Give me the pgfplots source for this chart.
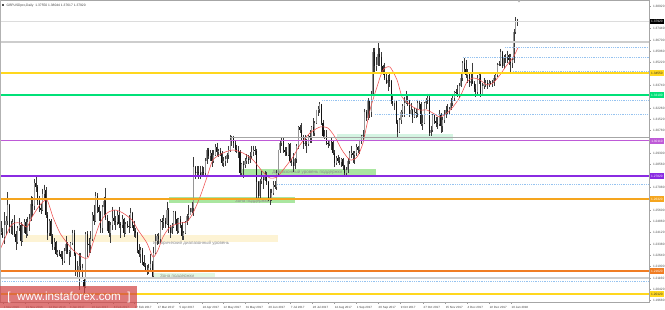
\documentclass[border=0pt]{standalone}
\usepackage{fontspec}
\setmainfont{Liberation Sans}
\usepackage{pgfplots}
\usepackage{pgfplotstable}
\pgfplotsset{compat=1.18}
\definecolor{wick}{RGB}{60,60,60}
\definecolor{bull}{RGB}{150,150,150}
\definecolor{bear}{RGB}{20,20,20}
\definecolor{lgray}{RGB}{205,205,205}
\definecolor{gold}{RGB}{255,215,30}
\definecolor{sgreen}{RGB}{0,225,120}
\definecolor{orchid}{RGB}{190,90,215}
\definecolor{bviolet}{RGB}{138,43,226}
\definecolor{orange1}{RGB}{245,165,30}
\definecolor{orange2}{RGB}{240,125,35}
\definecolor{dotcol}{RGB}{150,195,240}
\definecolor{macol}{RGB}{240,80,80}
\definecolor{zgreen}{RGB}{170,230,160}
\definecolor{zmint}{RGB}{212,244,226}
\definecolor{zyellow}{RGB}{253,243,212}
\definecolor{zpale}{RGB}{226,247,226}
\definecolor{wm}{RGB}{210,70,70}
\pgfplotstableread{
i o h l c
-1 1.2410 1.2485 1.2395 1.2415
0 1.2415 1.2440 1.2375 1.2385
1 1.2385 1.2545 1.2335 1.2460
2 1.2460 1.2520 1.2395 1.2485
3 1.2485 1.2675 1.2465 1.2595
4 1.2595 1.2600 1.2410 1.2450
5 1.2450 1.2490 1.2400 1.2455
6 1.2455 1.2500 1.2395 1.2480
7 1.2480 1.2525 1.2385 1.2405
8 1.2405 1.2425 1.2300 1.2350
9 1.2350 1.2455 1.2335 1.2440
10 1.2440 1.2505 1.2420 1.2460
11 1.2460 1.2480 1.2325 1.2360
12 1.2360 1.2470 1.2350 1.2455
13 1.2455 1.2500 1.2410 1.2480
14 1.2480 1.2500 1.2380 1.2405
15 1.2405 1.2515 1.2390 1.2480
16 1.2480 1.2535 1.2420 1.2500
17 1.2500 1.2650 1.2490 1.2600
18 1.2600 1.2645 1.2520 1.2585
19 1.2585 1.2760 1.2560 1.2735
20 1.2735 1.2775 1.2680 1.2710
21 1.2710 1.2720 1.2595 1.2620
22 1.2620 1.2650 1.2550 1.2575
23 1.2575 1.2600 1.2535 1.2560
24 1.2560 1.2700 1.2555 1.2665
25 1.2665 1.2725 1.2630 1.2690
26 1.2690 1.2710 1.2510 1.2525
27 1.2525 1.2545 1.2365 1.2410
28 1.2410 1.2500 1.2390 1.2490
29 1.2490 1.2500 1.2335 1.2390
30 1.2390 1.2400 1.2300 1.2320
31 1.2320 1.2375 1.2300 1.2350
32 1.2350 1.2360 1.2265 1.2275
33 1.2275 1.2300 1.2250 1.2285
34 1.2285 1.2300 1.2260 1.2270
35 1.2270 1.2290 1.2240 1.2255
36 1.2255 1.2290 1.2200 1.2225
37 1.2225 1.2310 1.2215 1.2290
38 1.2290 1.2390 1.2270 1.2340
39 1.2340 1.2350 1.2270 1.2285
40 1.2285 1.2300 1.2200 1.2290
41 1.2290 1.2350 1.2255 1.2345
42 1.2345 1.2430 1.2330 1.2410
43 1.2410 1.2430 1.2260 1.2275
44 1.2275 1.2280 1.2130 1.2170
45 1.2170 1.2230 1.2110 1.2170
46 1.2170 1.2280 1.2035 1.2195
47 1.2195 1.2280 1.2155 1.2165
48 1.2165 1.2210 1.2120 1.2180
49 1.2100 1.2115 1.1986 1.2060
50 1.2060 1.2415 1.2050 1.2405
51 1.2405 1.2420 1.2255 1.2340
52 1.2340 1.2375 1.2280 1.2330
53 1.2330 1.2420 1.2280 1.2370
54 1.2370 1.2545 1.2360 1.2530
55 1.2530 1.2590 1.2460 1.2485
56 1.2485 1.2675 1.2480 1.2650
57 1.2650 1.2670 1.2540 1.2580
58 1.2580 1.2595 1.2490 1.2545
59 1.2545 1.2555 1.2410 1.2440
60 1.2440 1.2590 1.2410 1.2580
61 1.2580 1.2645 1.2530 1.2620
62 1.2620 1.2705 1.2495 1.2510
63 1.2510 1.2530 1.2420 1.2485
64 1.2485 1.2490 1.2385 1.2410
65 1.2410 1.2480 1.2345 1.2460
66 1.2460 1.2580 1.2430 1.2510
67 1.2510 1.2560 1.2460 1.2485
68 1.2485 1.2520 1.2430 1.2480
69 1.2480 1.2555 1.2460 1.2530
70 1.2530 1.2580 1.2440 1.2470
71 1.2470 1.2480 1.2375 1.2460
72 1.2460 1.2525 1.2440 1.2500
73 1.2500 1.2510 1.2385 1.2410
74 1.2410 1.2480 1.2400 1.2470
75 1.2470 1.2485 1.2440 1.2455
76 1.2455 1.2530 1.2410 1.2450
77 1.2450 1.2570 1.2440 1.2540
78 1.2540 1.2550 1.2445 1.2460
79 1.2460 1.2490 1.2385 1.2420
80 1.2420 1.2440 1.2380 1.2410
81 1.2410 1.2415 1.2280 1.2300
82 1.2300 1.2335 1.2250 1.2275
83 1.2275 1.2320 1.2215 1.2300
84 1.2300 1.2310 1.2200 1.2220
85 1.2220 1.2265 1.2190 1.2195
86 1.2195 1.2215 1.2160 1.2170
87 1.2170 1.2200 1.2135 1.2160
88 1.2160 1.2210 1.2140 1.2180
89 1.2180 1.2275 1.2170 1.2210
90 1.2210 1.2230 1.2110 1.2130
91 1.2130 1.2320 1.2125 1.2280
92 1.2280 1.2400 1.2270 1.2360
93 1.2360 1.2405 1.2330 1.2390
94 1.2390 1.2410 1.2335 1.2370
95 1.2370 1.2500 1.2345 1.2490
96 1.2490 1.2505 1.2430 1.2480
97 1.2480 1.2525 1.2445 1.2490
98 1.2490 1.2510 1.2440 1.2470
99 1.2470 1.2615 1.2465 1.2560
100 1.2560 1.2570 1.2410 1.2440
101 1.2440 1.2465 1.2380 1.2410
102 1.2410 1.2475 1.2400 1.2450
103 1.2450 1.2555 1.2445 1.2550
104 1.2550 1.2555 1.2470 1.2500
105 1.2500 1.2505 1.2400 1.2420
106 1.2420 1.2510 1.2410 1.2500
107 1.2500 1.2520 1.2440 1.2460
108 1.2460 1.2480 1.2365 1.2390
109 1.2390 1.2420 1.2365 1.2410
110 1.2410 1.2485 1.2400 1.2480
111 1.2480 1.2535 1.2460 1.2520
112 1.2520 1.2590 1.2490 1.2530
113 1.2530 1.2575 1.2525 1.2550
114 1.2550 1.2615 1.2540 1.2570
115 1.2570 1.2905 1.2520 1.2840
116 1.2840 1.2845 1.2765 1.2800
117 1.2800 1.2845 1.2780 1.2810
118 1.2810 1.2845 1.2760 1.2800
119 1.2800 1.2850 1.2760 1.2790
120 1.2790 1.2850 1.2775 1.2810
121 1.2810 1.2840 1.2775 1.2800
122 1.2800 1.2900 1.2790 1.2880
123 1.2880 1.2965 1.2860 1.2950
124 1.2950 1.2965 1.2890 1.2910
125 1.2910 1.2950 1.2880 1.2930
126 1.2930 1.2950 1.2840 1.2880
127 1.2880 1.2950 1.2870 1.2920
128 1.2920 1.2990 1.2910 1.2970
129 1.2970 1.3000 1.2910 1.2940
130 1.2940 1.2960 1.2905 1.2945
131 1.2945 1.2965 1.2915 1.2930
132 1.2930 1.2945 1.2845 1.2870
133 1.2870 1.2905 1.2840 1.2880
134 1.2880 1.2910 1.2850 1.2890
135 1.2890 1.2935 1.2870 1.2920
136 1.2920 1.2975 1.2890 1.2950
137 1.2950 1.3048 1.2940 1.3020
138 1.3020 1.3045 1.2980 1.3030
139 1.3030 1.3045 1.2965 1.3000
140 1.3000 1.3010 1.2940 1.2960
141 1.2960 1.2985 1.2935 1.2950
142 1.2950 1.2975 1.2900 1.2940
143 1.2940 1.2950 1.2775 1.2800
144 1.2800 1.2870 1.2790 1.2860
145 1.2860 1.2880 1.2770 1.2855
146 1.2855 1.2900 1.2835 1.2880
147 1.2880 1.2925 1.2860 1.2890
148 1.2890 1.2920 1.2860 1.2885
149 1.2885 1.2940 1.2870 1.2910
150 1.2910 1.2975 1.2890 1.2940
151 1.2940 1.2980 1.2910 1.2950
152 1.2950 1.2975 1.2920 1.2945
153 1.2945 1.2960 1.2635 1.2740
154 1.2740 1.2750 1.2630 1.2650
155 1.2650 1.2765 1.2640 1.2750
156 1.2750 1.2815 1.2730 1.2760
157 1.2760 1.2790 1.2700 1.2755
158 1.2755 1.2815 1.2750 1.2780
159 1.2780 1.2810 1.2720 1.2740
160 1.2740 1.2750 1.2620 1.2640
161 1.2640 1.2700 1.2590 1.2630
162 1.2630 1.2700 1.2620 1.2670
163 1.2670 1.2750 1.2660 1.2720
164 1.2720 1.2750 1.2700 1.2710
165 1.2710 1.2820 1.2690 1.2800
166 1.2800 1.2955 1.2790 1.2950
167 1.2950 1.3010 1.2930 1.3000
168 1.3000 1.3030 1.2975 1.3020
169 1.3020 1.3030 1.2935 1.2950
170 1.2950 1.2970 1.2915 1.2940
171 1.2940 1.2970 1.2910 1.2920
172 1.2920 1.2995 1.2915 1.2990
173 1.2990 1.2995 1.2870 1.2880
174 1.2880 1.2895 1.2850 1.2875
175 1.2875 1.2930 1.2810 1.2850
176 1.2850 1.2900 1.2830 1.2890
177 1.2890 1.2990 1.2870 1.2980
178 1.2980 1.3110 1.2960 1.3100
179 1.3100 1.3115 1.3060 1.3080
180 1.3080 1.3125 1.3015 1.3030
181 1.3030 1.3050 1.2960 1.2990
182 1.2990 1.3050 1.2980 1.3000
183 1.3000 1.3025 1.2930 1.2990
184 1.2990 1.3050 1.2980 1.3040
185 1.3040 1.3080 1.3000 1.3030
186 1.3030 1.3110 1.3000 1.3100
187 1.3100 1.3160 1.3040 1.3060
188 1.3060 1.3140 1.3045 1.3130
189 1.3130 1.3215 1.3120 1.3210
190 1.3210 1.3240 1.3175 1.3220
191 1.3220 1.3265 1.3195 1.3250
192 1.3250 1.3255 1.3115 1.3130
193 1.3130 1.3145 1.3030 1.3040
194 1.3040 1.3080 1.3025 1.3045
195 1.3045 1.3080 1.2985 1.3000
196 1.3000 1.3020 1.2965 1.2990
197 1.2990 1.3020 1.2980 1.3010
198 1.3010 1.3030 1.2955 1.3005
199 1.3005 1.3015 1.2920 1.2930
200 1.2930 1.2950 1.2840 1.2870
201 1.2870 1.2910 1.2855 1.2900
202 1.2900 1.2920 1.2870 1.2880
203 1.2880 1.2905 1.2855 1.2875
204 1.2875 1.2900 1.2840 1.2890
205 1.2890 1.2900 1.2820 1.2850
206 1.2850 1.2855 1.2775 1.2800
207 1.2800 1.2840 1.2775 1.2820
208 1.2820 1.2900 1.2800 1.2880
209 1.2880 1.2945 1.2860 1.2930
210 1.2930 1.2980 1.2900 1.2935
211 1.2935 1.2945 1.2870 1.2920
212 1.2920 1.2945 1.2860 1.2930
213 1.2930 1.2990 1.2910 1.2970
214 1.2970 1.2975 1.2930 1.2950
215 1.2950 1.3020 1.2925 1.3010
216 1.3010 1.3050 1.2990 1.3040
217 1.3040 1.3080 1.3010 1.3050
218 1.3050 1.3220 1.3040 1.3200
219 1.3200 1.3210 1.3140 1.3160
220 1.3160 1.3290 1.3150 1.3270
221 1.3270 1.3280 1.3160 1.3200
222 1.3200 1.3340 1.3170 1.3320
223 1.3320 1.3615 1.3310 1.3590
224 1.3590 1.3620 1.3460 1.3500
225 1.3500 1.3560 1.3470 1.3510
226 1.3510 1.3657 1.3500 1.3580
227 1.3580 1.3615 1.3500 1.3560
228 1.3560 1.3590 1.3450 1.3500
229 1.3500 1.3510 1.3440 1.3450
230 1.3450 1.3520 1.3410 1.3420
231 1.3420 1.3450 1.3380 1.3390
232 1.3390 1.3440 1.3340 1.3410
233 1.3410 1.3450 1.3360 1.3400
234 1.3400 1.3410 1.3255 1.3270
235 1.3270 1.3320 1.3240 1.3260
236 1.3260 1.3280 1.3210 1.3270
237 1.3270 1.3275 1.3120 1.3130
238 1.3130 1.3150 1.3030 1.3070
239 1.3070 1.3160 1.3060 1.3150
240 1.3150 1.3210 1.3120 1.3200
241 1.3200 1.3250 1.3170 1.3240
242 1.3240 1.3300 1.3170 1.3260
243 1.3260 1.3340 1.3250 1.3280
244 1.3280 1.3310 1.3240 1.3270
245 1.3270 1.3280 1.3170 1.3190
246 1.3190 1.3260 1.3180 1.3210
247 1.3210 1.3220 1.3125 1.3170
248 1.3170 1.3225 1.3160 1.3200
249 1.3200 1.3220 1.3160 1.3195
250 1.3195 1.3280 1.3170 1.3260
251 1.3260 1.3275 1.3220 1.3255
252 1.3255 1.3265 1.3110 1.3120
253 1.3120 1.3180 1.3080 1.3130
254 1.3130 1.3265 1.3120 1.3260
255 1.3260 1.3290 1.3220 1.3280
256 1.3280 1.3320 1.3250 1.3290
257 1.3290 1.3320 1.3040 1.3060
258 1.3060 1.3110 1.3040 1.3080
259 1.3080 1.3190 1.3070 1.3180
260 1.3180 1.3190 1.3120 1.3140
261 1.3140 1.3170 1.3100 1.3130
262 1.3130 1.3170 1.3090 1.3120
263 1.3120 1.3210 1.3110 1.3190
264 1.3190 1.3195 1.3060 1.3110
265 1.3110 1.3170 1.3070 1.3150
266 1.3150 1.3210 1.3130 1.3180
267 1.3180 1.3240 1.3160 1.3210
268 1.3210 1.3250 1.3190 1.3205
269 1.3205 1.3230 1.3180 1.3220
270 1.3220 1.3290 1.3210 1.3260
271 1.3260 1.3320 1.3240 1.3290
272 1.3290 1.3340 1.3270 1.3330
273 1.3330 1.3350 1.3310 1.3325
274 1.3325 1.3375 1.3300 1.3320
275 1.3320 1.3390 1.3290 1.3370
276 1.3370 1.3450 1.3360 1.3420
277 1.3420 1.3530 1.3400 1.3520
278 1.3520 1.3550 1.3460 1.3480
279 1.3480 1.3540 1.3420 1.3440
280 1.3440 1.3480 1.3390 1.3445
281 1.3445 1.3450 1.3360 1.3390
282 1.3390 1.3460 1.3370 1.3400
283 1.3400 1.3520 1.3380 1.3390
284 1.3390 1.3400 1.3330 1.3350
285 1.3350 1.3380 1.3300 1.3330
286 1.3330 1.3440 1.3320 1.3420
287 1.3420 1.3460 1.3380 1.3440
288 1.3440 1.3450 1.3300 1.3320
289 1.3320 1.3390 1.3310 1.3370
290 1.3370 1.3420 1.3350 1.3380
291 1.3380 1.3410 1.3360 1.3390
292 1.3390 1.3410 1.3350 1.3380
293 1.3380 1.3410 1.3360 1.3390
294 1.3390 1.3400 1.3380 1.3385
295 1.3385 1.3410 1.3360 1.3390
296 1.3390 1.3440 1.3370 1.3420
297 1.3420 1.3460 1.3400 1.3440
298 1.3440 1.3520 1.3430 1.3510
299 1.3510 1.3530 1.3500 1.3515
300 1.3515 1.3612 1.3500 1.3590
301 1.3590 1.3600 1.3490 1.3500
302 1.3500 1.3570 1.3480 1.3550
303 1.3550 1.3580 1.3520 1.3560
304 1.3560 1.3600 1.3520 1.3570
305 1.3570 1.3580 1.3510 1.3540
306 1.3540 1.3580 1.3460 1.3520
307 1.3520 1.3560 1.3490 1.3540
308 1.3540 1.3740 1.3520 1.3720
309 1.3720 1.3820 1.3710 1.3790
310 1.3785 1.3810 1.3760 1.3792
}\ohlc
\begin{document}
\begin{tikzpicture}
\useasboundingbox (0bp,0bp) rectangle (665bp,310bp);
\fill[white] (0bp,0bp) rectangle (665bp,310bp);
\begin{axis}[
  at={(0bp,8bp)}, anchor=south west,
  scale only axis, width=649bp, height=302bp,
  xmin=-1.6, xmax=389.4, ymin=1.19592, ymax=1.39313,
  clip mode=individual,
  axis line style={draw=gray!70, line width=0.6bp},
  xtick pos=bottom, ytick pos=right, yticklabel pos=right,
  tick align=outside, major tick length=1.6bp,
  tick style={draw=gray!80, line width=0.4bp},
  scaled y ticks=false,
  /pgf/number format/assume math mode=true,
  xtick={0.2,13.5,27.3,40.0,53.2,66.5,79.1,93.0,106.2,120.1,132.7,146.0,159.8,173.1,186.4,199.6,212.9,226.1,239.4,253.2,266.5,279.7,293.0,306.2},
  xticklabels={1 Nov 2016,21 Nov 2016,14 Dec 2016,3 Jan 2017,23 Jan 2017,8 Feb 2017,27 Feb 2017,17 Mar 2017,5 Apr 2017,24 Apr 2017,12 May 2017,31 May 2017,20 Jun 2017,7 Jul 2017,26 Jul 2017,14 Aug 2017,1 Sep 2017,20 Sep 2017,9 Oct 2017,27 Oct 2017,15 Nov 2017,4 Dec 2017,22 Dec 2017,10 Jan 2018},
  xticklabel style={font=\fontsize{3}{3.5}\selectfont, text=black!75, anchor=north west, inner sep=0pt, xshift=0.6bp, yshift=-2.6bp},
  ytick={1.3892,1.3744,1.3670,1.3596,1.3522,1.3374,1.3226,1.3152,1.3078,1.2930,1.2856,1.2708,1.2560,1.2486,1.2412,1.2338,1.2264,1.2190,1.2116,1.2042,1.1968},
  yticklabel style={font=\fontsize{3.2}{3.6}\selectfont, text=black!70, anchor=west, inner sep=0pt, xshift=2.2bp,
    /pgf/number format/fixed, /pgf/number format/fixed zerofill, /pgf/number format/precision=5},
]
% zones
\addplot[draw=none, fill=zyellow, forget plot] coordinates {(10.5,1.23968) (165.9,1.23968) (165.9,1.23511) (10.5,1.23511)} -- cycle;
\addplot[draw=none, fill=zgreen, forget plot] coordinates {(100.2,1.26449) (176.1,1.26449) (176.1,1.26057) (100.2,1.26057)} -- cycle;
\addplot[draw=none, fill=zgreen, forget plot] coordinates {(143.0,1.28277) (224.9,1.28277) (224.9,1.27820) (143.0,1.27820)} -- cycle;
\addplot[draw=none, fill=zmint, forget plot] coordinates {(201.4,1.30563) (271.3,1.30563) (271.3,1.30171) (201.4,1.30171)} -- cycle;
\addplot[draw=none, fill=zpale, forget plot] coordinates {(90.0,1.21486) (127.9,1.21486) (127.9,1.21160) (90.0,1.21160)} -- cycle;
% zone texts
\node[anchor=west, inner sep=0pt, font=\fontsize{4.5}{5}\selectfont, text=black!45] at (axis cs:90.6,1.23445) {Исторический диапазонный уровень};
\node[anchor=west, inner sep=0pt, font=\fontsize{4.5}{5}\selectfont, text=black!45] at (axis cs:162.3,1.28049) {Диапазонный уровень поддержки};
\node[anchor=west, inner sep=0pt, font=\fontsize{4.5}{5}\selectfont, text=black!45] at (axis cs:140.0,1.26188) {Зона поддержки};
\node[anchor=west, inner sep=0pt, font=\fontsize{4.5}{5}\selectfont, text=black!45] at (axis cs:94.8,1.21290) {Зона поддержки};
% wicks
\addplot[draw=none, mark=none, forget plot, error bars/.cd, y dir=minus, y explicit, error mark=none,
  error bar style={line width=0.45bp, color=wick}]
  table[x=i, y=h, y error minus expr=\thisrow{h}-\thisrow{l}] {\ohlc};
% bull bodies
\addplot[draw=none, mark=none, forget plot, restrict expr to domain={\thisrow{c}-\thisrow{o}}{0:1},
  error bars/.cd, y dir=minus, y explicit, error mark=none,
  error bar style={line width=1.05bp, color=bull}]
  table[x=i, y=c, y error minus expr=\thisrow{c}-\thisrow{o}] {\ohlc};
% bear bodies
\addplot[draw=none, mark=none, forget plot, restrict expr to domain={\thisrow{o}-\thisrow{c}}{0.00001:1},
  error bars/.cd, y dir=minus, y explicit, error mark=none,
  error bar style={line width=1.05bp, color=bear}]
  table[x=i, y=o, y error minus expr=\thisrow{o}-\thisrow{c}] {\ohlc};
% moving average
\addplot[macol, line width=0.55bp, smooth, tension=0.4, mark=none] coordinates {
(-1.6,1.2299) (4.4,1.2449) (7.4,1.2475) (10.5,1.2475) (14.7,1.2449) (17.7,1.2514) (22.5,1.2593) (26.7,1.2625) (30.3,1.2514) (34.5,1.2410) (38.8,1.2345) (42.4,1.2299) (47.8,1.2253) (51.4,1.2247) (54.4,1.2345) (58.6,1.2475) (62.9,1.2540) (67.7,1.2560) (72.5,1.2540) (77.9,1.2495) (81.5,1.2430) (86.9,1.2345) (90.6,1.2253) (93.6,1.2299) (96.6,1.2384) (100.8,1.2449) (106.8,1.2475) (111.0,1.2482) (114.7,1.2540) (118.9,1.2645) (123.1,1.2775) (126.7,1.2887) (132.7,1.2932) (138.8,1.2952) (144.8,1.2932) (150.8,1.2887) (156.8,1.2808) (161.0,1.2769) (165.3,1.2775) (168.9,1.2821) (174.9,1.2906) (179.1,1.2985) (185.1,1.3063) (191.2,1.3102) (196.0,1.3095) (200.2,1.3037) (204.4,1.2952) (209.2,1.2887) (213.5,1.2906) (217.1,1.2998) (221.3,1.3213) (225.5,1.3363) (229.1,1.3474) (233.3,1.3494) (237.6,1.3409) (240.6,1.3298) (243.6,1.3265) (247.2,1.3233) (251.4,1.3213) (255.6,1.3213) (259.2,1.3193) (263.5,1.3167) (267.7,1.3193) (271.3,1.3233) (275.5,1.3298) (279.7,1.3396) (283.3,1.3422) (287.5,1.3409) (291.8,1.3376) (295.4,1.3389) (299.6,1.3442) (303.8,1.3507) (307.4,1.3553) (310.4,1.3618)};
% horizontal levels
\addplot[lgray!70!white, line width=0.6bp] coordinates {(-1.6,1.3792) (389.4,1.3792)};
\addplot[lgray, line width=2bp] coordinates {(-1.6,1.3660) (389.4,1.3660)};
\addplot[dotcol, line width=0.6bp, dash pattern=on 0.7bp off 1.1bp] coordinates {(302.6,1.3624) (389.4,1.3624)};
\addplot[dotcol, line width=0.6bp, dash pattern=on 0.7bp off 1.1bp] coordinates {(277.3,1.3559) (389.4,1.3559)};
\addplot[dotcol, line width=0.6bp, dash pattern=on 0.7bp off 1.1bp] coordinates {(307.4,1.3468) (389.4,1.3468)};
\addplot[gold, line width=1.8bp] coordinates {(-1.6,1.3455) (389.4,1.3455)};
\addplot[sgreen, line width=1.5bp] coordinates {(-1.6,1.3310) (389.4,1.3310)};
\addplot[dotcol, line width=0.6bp, dash pattern=on 0.7bp off 1.1bp] coordinates {(192.4,1.3278) (389.4,1.3278)};
\addplot[dotcol, line width=0.6bp, dash pattern=on 0.7bp off 1.1bp] coordinates {(224.3,1.3187) (389.4,1.3187)};
\addplot[gray!70, line width=0.6bp] coordinates {(136.9,1.3037) (389.4,1.3037)};
\addplot[orchid, line width=1.1bp] coordinates {(-1.6,1.3011) (389.4,1.3011)};
\addplot[bviolet, line width=2bp] coordinates {(-1.6,1.2782) (389.4,1.2782)};
\addplot[dotcol, line width=0.6bp, dash pattern=on 0.7bp off 1.1bp] coordinates {(165.3,1.2730) (389.4,1.2730)};
\addplot[orange1, line width=1.3bp] coordinates {(-1.6,1.2632) (389.4,1.2632)};
\addplot[orange2, line width=1.3bp] coordinates {(-1.6,1.2162) (389.4,1.2162)};
\addplot[lgray, line width=2bp] coordinates {(-1.6,1.2116) (389.4,1.2116)};
\addplot[dotcol, line width=0.6bp, dash pattern=on 0.7bp off 1.1bp] coordinates {(-1.6,1.2096) (389.4,1.2096)};
\addplot[gold, line width=1.8bp] coordinates {(-1.6,1.2012) (389.4,1.2012)};
% price boxes on the scale
\tikzset{pbox/.style={anchor=west, inner sep=0pt, minimum height=5.6bp, minimum width=13.5bp, xshift=1bp, font=\fontsize{3.2}{3.6}\selectfont}}
\node[pbox, fill=black, text=white] at (axis cs:389.4,1.3792) {1.37920};
\node[pbox, fill=gold, text=black!80] at (axis cs:389.4,1.3455) {1.34550};
\node[pbox, fill=sgreen, text=white] at (axis cs:389.4,1.3310) {1.33100};
\node[pbox, fill=orchid, text=white] at (axis cs:389.4,1.3011) {1.30110};
\node[pbox, fill=bviolet, text=white] at (axis cs:389.4,1.2782) {1.27820};
\node[pbox, fill=orange1, text=white] at (axis cs:389.4,1.2632) {1.26320};
\node[pbox, fill=orange2, text=white] at (axis cs:389.4,1.2162) {1.21620};
\node[pbox, fill=gold, text=black!80] at (axis cs:389.4,1.2012) {1.20120};
\end{axis}
% left frame strip
\fill[gray!60] (0bp,8bp) rectangle (1.4bp,310bp);
% header
\fill[black!70] (2.2bp,303.6bp) rectangle (4.2bp,305.6bp);
\node[anchor=west, inner sep=0pt, font=\fontsize{3.3}{3.8}\selectfont, text=black!75] at (6.5bp,304.6bp) {GBPUSDpro,Daily\ \ 1.37550 1.38044 1.37617 1.37920};
% shift marker
\fill[gray!60] (517.5bp,309.5bp) -- (520.5bp,309.5bp) -- (519bp,307.5bp) -- cycle;
% watermark
\fill[wm, opacity=0.72] (0bp,2bp) rectangle (137bp,24bp);
\node[inner sep=0pt, font=\fontsize{11.7}{13}\selectfont, text=white] at (69bp,13bp) {[\ \ www.instaforex.com\ \ ]};
\end{tikzpicture}
\end{document}
